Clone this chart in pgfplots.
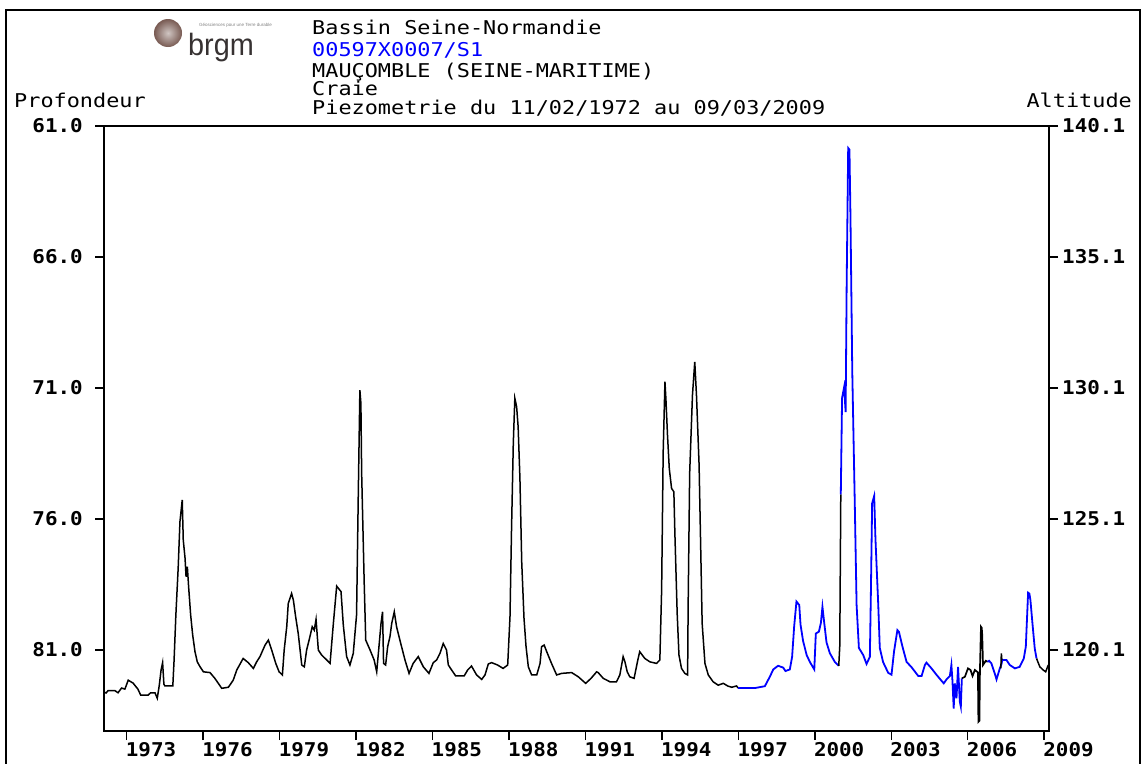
\documentclass[border=0pt]{standalone}
\usepackage{fontspec}
\setmainfont{DejaVu Sans Mono}
\newfontfamily\titlefont{DejaVu Sans Mono}[FakeStretch=1.15]
\newfontfamily\tickfont{DejaVu Sans Mono}[FakeStretch=1.1]
\newfontfamily\logofont{Liberation Sans}
\usepackage{pgfplots}
\pgfplotsset{compat=1.18}
\definecolor{ptblue}{RGB}{0,0,255}
\definecolor{logobrown}{RGB}{120,90,82}
\definecolor{logogray}{RGB}{55,50,50}

\pgfplotstableread{
x y
1972.11 82.60
1972.19 82.64
1972.27 82.55
1972.54 82.55
1972.66 82.63
1972.80 82.45
1972.93 82.49
1973.06 82.15
1973.25 82.26
1973.44 82.49
1973.55 82.72
1973.84 82.72
1973.94 82.63
1974.11 82.63
1974.20 82.84
1974.28 82.34
1974.35 81.76
1974.41 81.48
1974.46 82.30
1974.50 82.37
1974.81 82.37
1974.86 81.38
1974.93 79.66
1975.02 77.88
1975.09 76.10
1975.18 75.27
1975.22 76.80
1975.29 77.49
1975.33 78.20
1975.38 77.82
1975.43 78.58
1975.51 79.66
1975.59 80.43
1975.68 81.06
1975.77 81.45
1975.88 81.64
1976.01 81.83
1976.27 81.86
1976.46 82.08
1976.73 82.46
1976.99 82.42
1977.18 82.15
1977.32 81.76
1977.57 81.32
1977.77 81.48
1977.97 81.70
1978.10 81.45
1978.23 81.25
1978.43 80.81
1978.56 80.62
1978.69 81.00
1978.85 81.51
1978.98 81.83
1979.11 81.95
1979.18 81.00
1979.28 80.11
1979.34 79.22
1979.47 78.84
1979.54 79.09
1979.63 79.73
1979.73 80.36
1979.87 81.57
1979.97 81.64
1980.06 81.00
1980.19 80.49
1980.28 80.11
1980.36 80.24
1980.43 79.83
1980.52 81.00
1980.65 81.19
1980.85 81.38
1980.98 81.51
1981.11 79.98
1981.24 78.56
1981.41 78.77
1981.50 80.05
1981.63 81.25
1981.76 81.57
1981.89 81.13
1982.02 79.66
1982.09 74.89
1982.15 71.08
1982.19 71.58
1982.22 74.26
1982.32 78.45
1982.38 80.62
1982.55 81.00
1982.71 81.38
1982.81 81.83
1982.91 80.75
1982.98 79.98
1983.04 79.54
1983.08 81.51
1983.16 81.57
1983.24 80.87
1983.33 80.49
1983.40 79.98
1983.50 79.54
1983.59 80.11
1983.72 80.62
1983.92 81.38
1984.08 81.89
1984.24 81.51
1984.44 81.25
1984.64 81.64
1984.86 81.89
1985.03 81.48
1985.16 81.38
1985.29 81.13
1985.42 80.75
1985.55 81.00
1985.62 81.57
1985.75 81.76
1985.91 81.99
1986.24 81.99
1986.38 81.76
1986.53 81.61
1986.73 81.95
1986.93 82.12
1987.06 81.95
1987.19 81.53
1987.32 81.48
1987.55 81.57
1987.77 81.70
1987.95 81.57
1988.04 79.73
1988.10 76.42
1988.17 73.11
1988.23 71.39
1988.30 71.71
1988.36 72.48
1988.43 74.45
1988.50 77.63
1988.59 79.79
1988.67 80.87
1988.76 81.64
1988.89 81.95
1989.09 81.95
1989.22 81.51
1989.28 80.87
1989.38 80.81
1989.48 81.06
1989.67 81.51
1989.87 81.95
1990.07 81.89
1990.46 81.86
1990.72 82.02
1991.01 82.27
1991.22 82.08
1991.44 81.83
1991.50 81.86
1991.70 82.08
1991.96 82.21
1992.22 82.21
1992.35 81.95
1992.48 81.25
1992.55 81.45
1992.64 81.83
1992.74 82.02
1992.91 82.08
1993.04 81.45
1993.13 81.06
1993.33 81.32
1993.53 81.45
1993.79 81.51
1993.92 81.38
1993.99 78.71
1994.05 73.49
1994.12 70.76
1994.16 71.46
1994.22 72.79
1994.29 74.07
1994.38 74.83
1994.47 74.96
1994.51 76.55
1994.60 79.60
1994.67 81.19
1994.77 81.70
1994.90 81.89
1995.01 81.95
1995.03 79.35
1995.09 74.26
1995.20 71.27
1995.29 70.00
1995.36 71.33
1995.46 73.94
1995.53 77.44
1995.58 79.98
1995.69 81.51
1995.82 81.95
1996.01 82.21
1996.21 82.34
1996.41 82.27
1996.58 82.37
1996.74 82.42
1996.93 82.37
1996.99 82.45
}\blackA

\pgfplotstableread{
x y
1996.99 82.45
1997.65 82.45
1998.04 82.38
1998.24 82.01
1998.37 81.74
1998.56 81.60
1998.76 81.67
1998.85 81.80
1999.02 81.74
1999.11 81.26
1999.19 80.10
1999.28 79.15
1999.39 79.28
1999.44 80.03
1999.54 80.65
1999.68 81.19
1999.81 81.46
1999.98 81.74
2000.04 80.37
2000.16 80.30
2000.24 79.96
2000.30 79.35
2000.37 79.96
2000.46 80.71
2000.59 81.12
2000.79 81.46
2000.94 81.60
}\blueA

\pgfplotstableread{
x y
2000.94 81.60
2000.98 80.85
2001.02 75.06
}\blackB

\pgfplotstableread{
x y
2001.02 75.06
2001.07 71.38
2001.15 70.97
2001.21 71.92
2001.25 67.08
2001.31 61.84
2001.36 61.90
2001.40 64.49
2001.47 70.35
2001.57 75.47
2001.64 79.28
2001.73 80.92
2001.90 81.19
2002.03 81.53
2002.16 81.26
2002.20 78.87
2002.25 75.40
2002.33 75.12
2002.38 76.76
2002.49 79.28
2002.55 80.92
2002.68 81.46
2002.88 81.87
2003.01 81.94
2003.11 81.05
2003.24 80.24
2003.30 80.30
2003.44 80.87
2003.60 81.45
2003.80 81.66
2004.06 81.99
2004.19 81.99
2004.32 81.57
2004.38 81.48
2004.58 81.70
2004.78 81.95
2004.97 82.17
2005.06 82.27
2005.17 82.12
2005.30 81.99
2005.36 81.57
2005.40 82.15
2005.45 83.23
2005.49 82.27
2005.56 82.84
2005.62 81.64
2005.69 82.97
2005.73 83.16
2005.77 82.08
}\blueB

\pgfplotstableread{
x y
2005.77 82.08
2005.89 82.02
2006.01 81.70
2006.11 81.76
2006.19 81.99
2006.28 81.76
2006.37 81.83
2006.40 81.85
2006.42 83.74
2006.46 83.70
2006.48 81.76
2006.52 80.11
2006.55 80.15
2006.57 80.43
2006.60 81.57
2006.71 81.41
2006.78 81.45
}\blackC

\pgfplotstableread{
x y
2006.78 81.45
2006.84 81.41
2006.93 81.51
2007.06 81.89
2007.13 82.12
2007.26 81.70
2007.32 81.55
2007.36 81.38
2007.52 81.38
2007.65 81.57
2007.85 81.70
2008.04 81.64
2008.20 81.32
2008.28 80.87
2008.31 80.17
2008.37 78.81
2008.42 78.85
2008.46 79.09
2008.54 79.98
2008.63 80.94
2008.70 81.32
}\blueC

\pgfplotstableread{
x y
2007.30 81.70
2007.32 81.13
2007.34 81.38
}\blackD

\pgfplotstableread{
x y
2008.70 81.32
2008.83 81.64
2008.96 81.76
2009.06 81.83
2009.16 81.57
}\blackE

\begin{document}
\begin{tikzpicture}
\useasboundingbox (0pt,0pt) rectangle (1147pt,-763pt);
% outer frame
\draw[line width=2.5pt] (6pt,-800pt) -- (6pt,-10pt) -- (1140pt,-10pt) -- (1140pt,-800pt);
% logo
\shade[inner color=logobrown!35, outer color=logobrown] (168pt,-33pt) circle (14pt);
\node[anchor=base west, inner sep=0pt, text=logogray, font=\logofont\fontsize{28}{28}\selectfont, xscale=1.03, yscale=1.1] at (188pt,-55pt) {brgm};
\node[anchor=west, inner sep=0pt, text=gray, font=\logofont\fontsize{4.5}{4.5}\selectfont] at (199pt,-25pt) {Géosciences pour une Terre durable};
% titles
\begin{scope}[every node/.style={anchor=base west, inner sep=0pt, font=\titlefont\fontsize{19}{19}\selectfont}]
\node at (312pt,-34pt) {Bassin Seine-Normandie};
\node[text=ptblue] at (312pt,-56pt) {00597X0007/S1};
\node at (312pt,-77pt) {MAUÇOMBLE (SEINE-MARITIME)};
\node at (312pt,-95pt) {Craie};
\node at (312pt,-114pt) {Piezometrie du 11/02/1972 au 09/03/2009};
\node at (14pt,-107pt) {Profondeur};
\node[anchor=base east] at (1132pt,-107pt) {Altitude};
\end{scope}

\begin{axis}[
  at={(104pt,-731pt)}, anchor=south west,
  scale only axis, width=945pt, height=605pt,
  xmin=1972.11, xmax=2009.19,
  ymin=61, ymax=84.09, y dir=reverse,
  xtick={1973,1976,1979,1982,1985,1988,1991,1994,1997,2000,2003,2006,2009},
  ytick={61,66,71,76,81},
  xtick pos=bottom, ytick pos=left,
  tick align=outside, major tick length=9pt,
  axis line style={line width=1.8pt},
  every tick/.style={black, line width=1.4pt},
  /pgf/number format/assume math mode=true,
  every tick label/.append style={font=\tickfont\bfseries\fontsize{19}{19}\selectfont},
  xticklabel style={/pgf/number format/1000 sep={}, anchor=north west, inner sep=0pt, xshift=-1pt, yshift=-2pt},
  yticklabel style={/pgf/number format/.cd, fixed, fixed zerofill, precision=1, /tikz/.cd, anchor=east, inner sep=0pt, xshift=-12pt},
]
\addplot[black, line width=1.5pt, no markers] table[x=x,y=y] {\blackA};
\addplot[ptblue, line width=1.8pt, no markers] table[x=x,y=y] {\blueA};
\addplot[black, line width=1.5pt, no markers] table[x=x,y=y] {\blackB};
\addplot[ptblue, line width=1.8pt, no markers] table[x=x,y=y] {\blueB};
\addplot[black, line width=1.7pt, no markers] table[x=x,y=y] {\blackC};
\addplot[ptblue, line width=1.8pt, no markers] table[x=x,y=y] {\blueC};
\addplot[black, line width=1.5pt, no markers] table[x=x,y=y] {\blackD};
\addplot[black, line width=1.5pt, no markers] table[x=x,y=y] {\blackE};
\end{axis}

\begin{axis}[
  at={(104pt,-731pt)}, anchor=south west,
  scale only axis, width=945pt, height=605pt,
  xmin=1972.11, xmax=2009.19,
  ymin=117.01, ymax=140.1,
  axis x line=none, axis y line*=right,
  ytick={120.1,125.1,130.1,135.1,140.1},
  tick align=outside, major tick length=9pt,
  axis line style={line width=1.8pt},
  every tick/.style={black, line width=1.4pt},
  /pgf/number format/assume math mode=true,
  every tick label/.append style={font=\tickfont\bfseries\fontsize{19}{19}\selectfont},
  yticklabel style={/pgf/number format/.cd, fixed, fixed zerofill, precision=1, /tikz/.cd, anchor=west, inner sep=0pt, xshift=4pt},
]
\end{axis}
\end{tikzpicture}
\end{document}
